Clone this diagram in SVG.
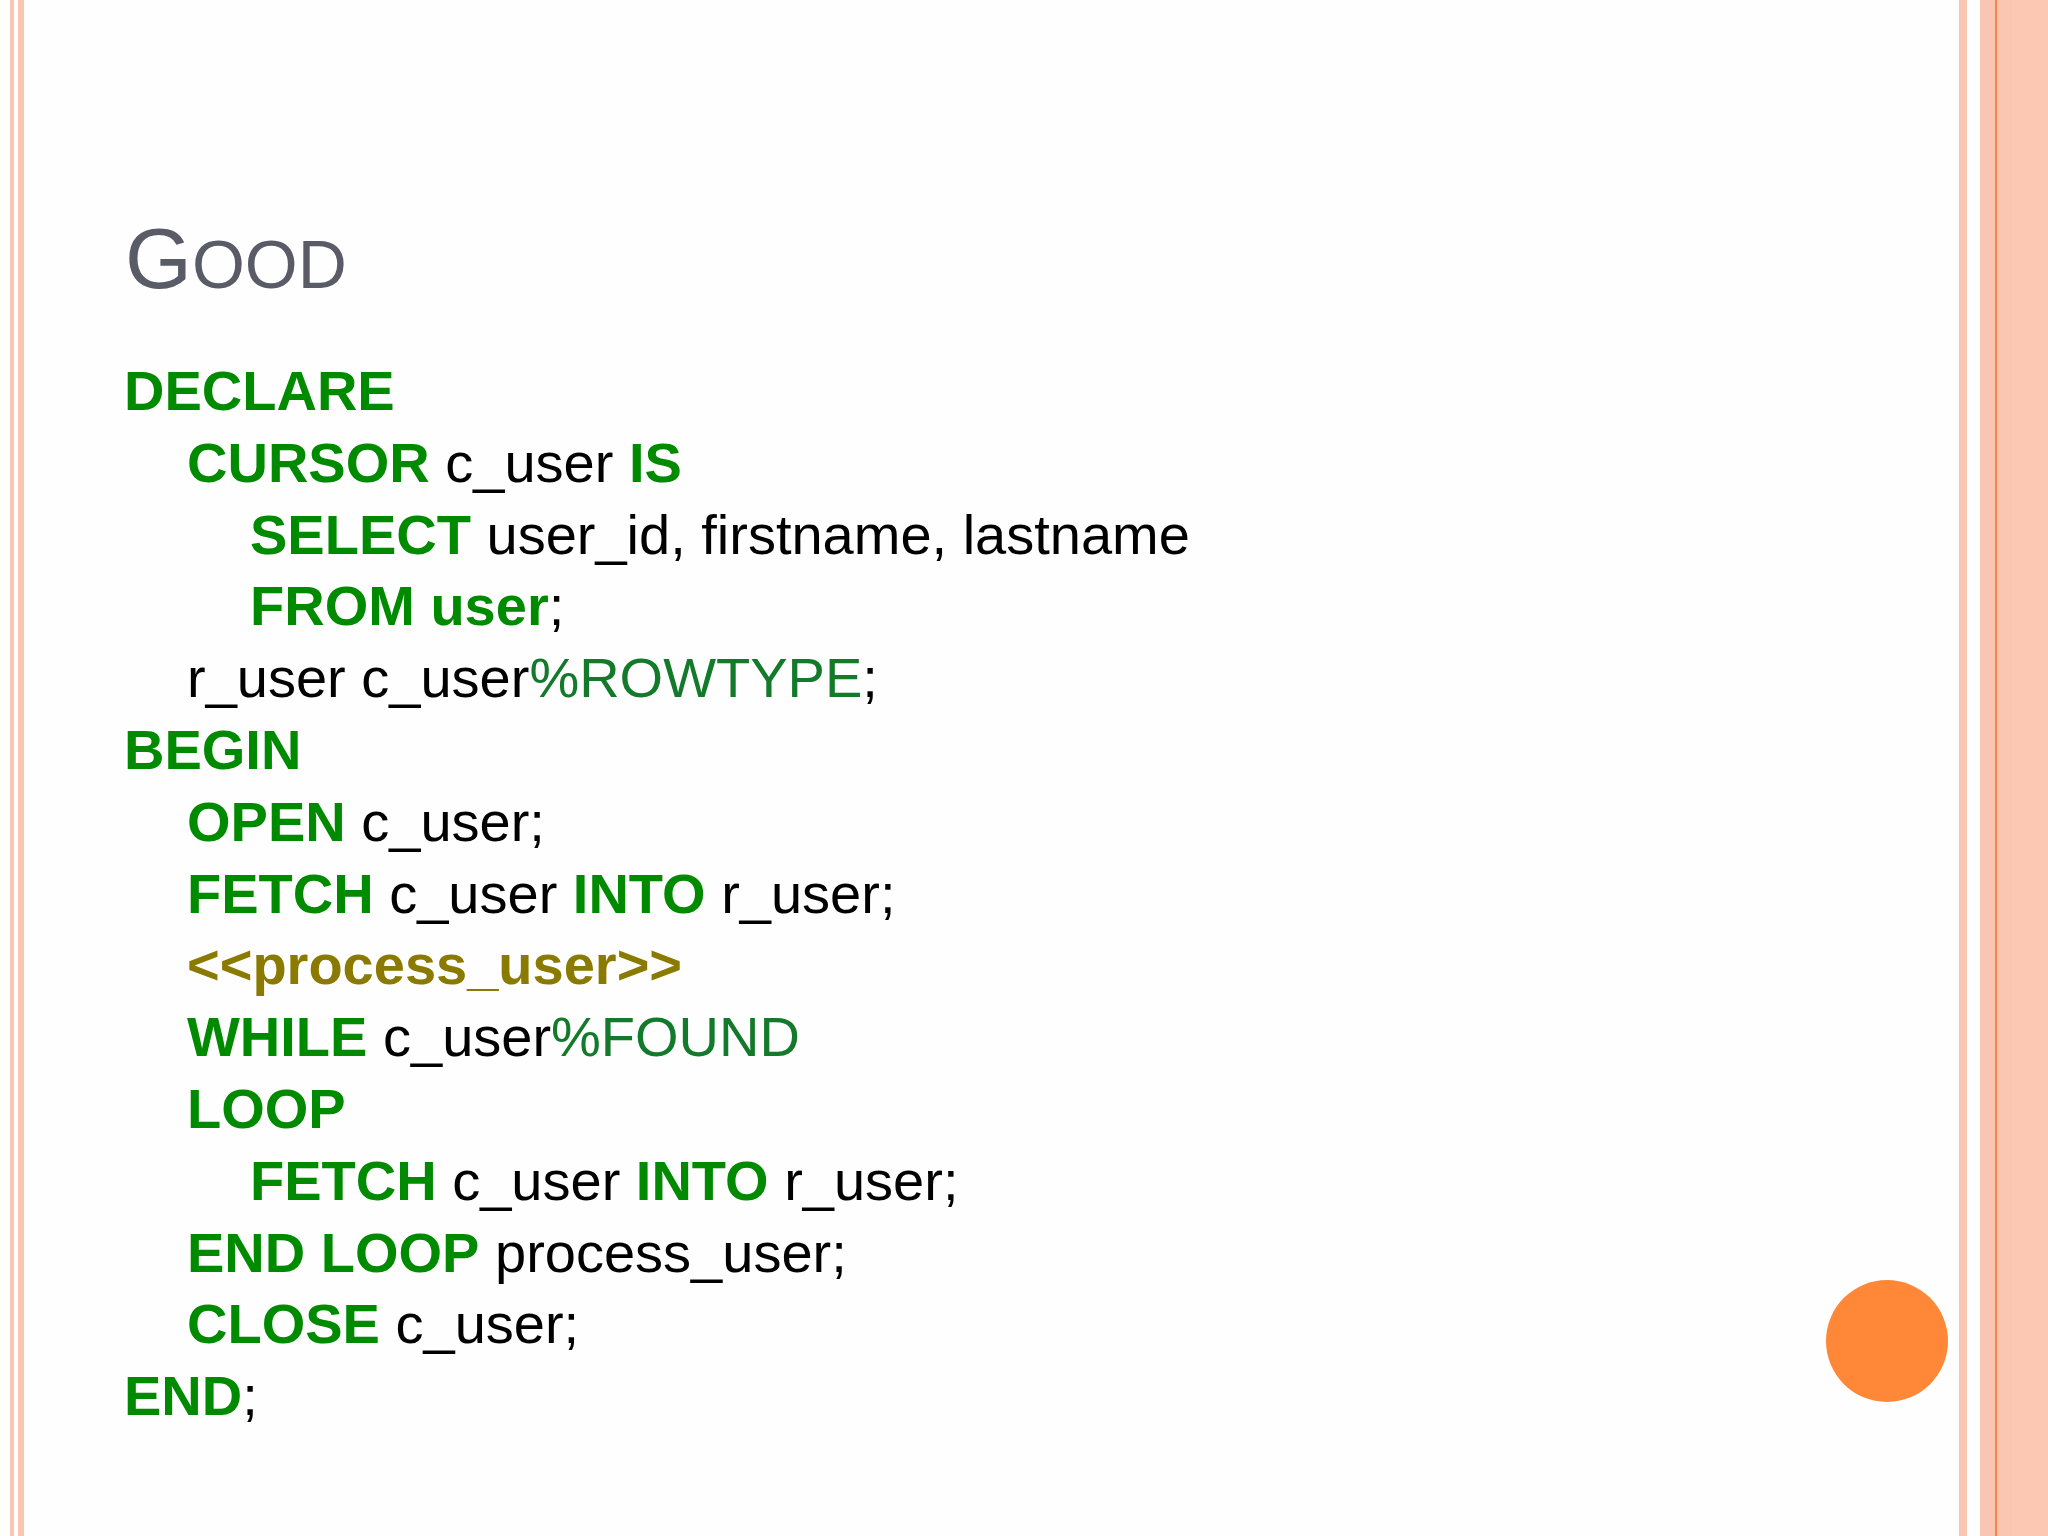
<svg xmlns="http://www.w3.org/2000/svg" width="2048" height="1536" viewBox="0 0 2048 1536">
<style>
text{font-family:"Liberation Sans",Arial,sans-serif;font-size:56px;fill:#000}
.k{font-weight:bold;fill:#008a00}
.a{fill:#127a2a}
.l{font-weight:bold;fill:#8b7a00}
.s{fill:#fbc6b1}
</style>
<rect width="2048" height="1536" fill="#fdfefd"/>
<rect class="s" x="10" y="0" width="4" height="1536"/>
<rect class="s" x="18" y="0" width="6" height="1536"/>
<rect class="s" x="1959" y="0" width="8" height="1536"/>
<rect class="s" x="1980" y="0" width="68" height="1536"/>
<rect x="2012" y="0" width="36" height="1536" fill="#fcc8b4"/>
<rect x="1995" y="0" width="2" height="1536" fill="#f4844a"/>
<circle id="dot" cx="1887" cy="1341" r="61" fill="#fe8738"/>
<g id="title"><text x="125" y="288" style="fill:#595c66;font-size:86px">G<tspan style="font-size:68px">OOD</tspan></text></g>
<g id="code" xml:space="preserve">
<text x="124" y="410"><tspan class="k">DECLARE</tspan></text>
<text x="187" y="482"><tspan class="k">CURSOR</tspan> c_user <tspan class="k">IS</tspan></text>
<text x="250" y="554"><tspan class="k">SELECT</tspan> user_id, firstname, lastname</text>
<text x="250" y="625"><tspan class="k">FROM user</tspan>;</text>
<text x="187" y="697">r_user c_user<tspan class="a">%ROWTYPE</tspan>;</text>
<text x="124" y="769"><tspan class="k">BEGIN</tspan></text>
<text x="187" y="841"><tspan class="k">OPEN</tspan> c_user;</text>
<text x="187" y="913"><tspan class="k">FETCH</tspan> c_user <tspan class="k">INTO</tspan> r_user;</text>
<text x="187" y="984"><tspan class="l">&lt;&lt;process_user&gt;&gt;</tspan></text>
<text x="187" y="1056"><tspan class="k">WHILE</tspan> c_user<tspan class="a">%FOUND</tspan></text>
<text x="187" y="1128"><tspan class="k">LOOP</tspan></text>
<text x="250" y="1200"><tspan class="k">FETCH</tspan> c_user <tspan class="k">INTO</tspan> r_user;</text>
<text x="187" y="1272"><tspan class="k">END LOOP</tspan> process_user;</text>
<text x="187" y="1343"><tspan class="k">CLOSE</tspan> c_user;</text>
<text x="124" y="1415"><tspan class="k">END</tspan>;</text>
</g>
</svg>
